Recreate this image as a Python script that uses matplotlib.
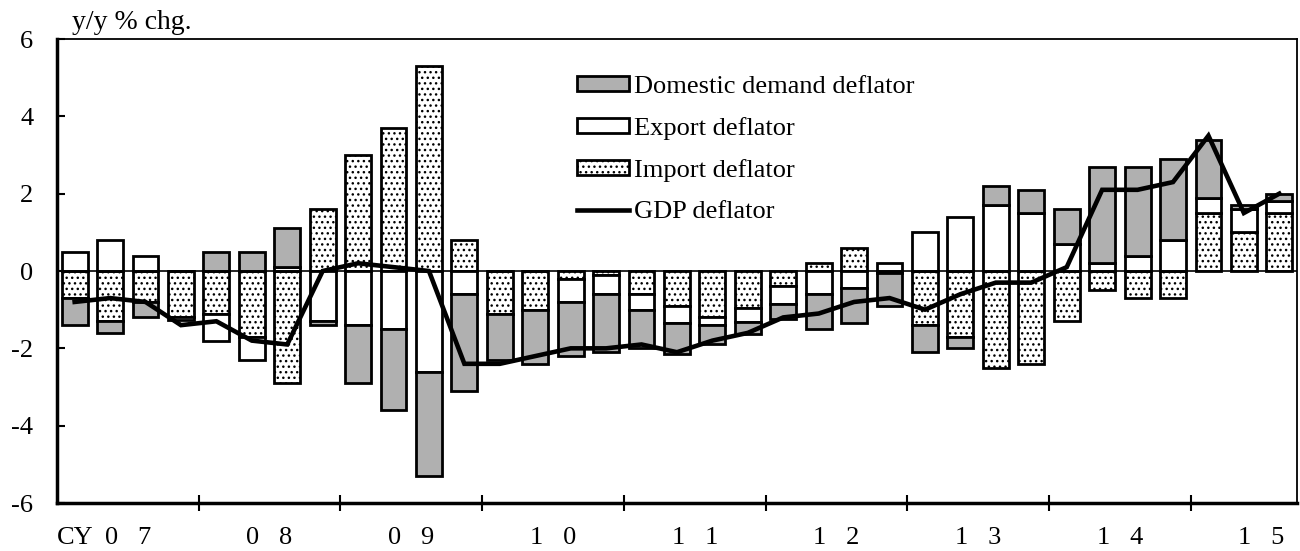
import numpy as np
import matplotlib
matplotlib.use('Agg')
import matplotlib.pyplot as plt
from matplotlib.patches import Patch
from matplotlib.lines import Line2D
from matplotlib.transforms import offset_copy

plt.rcParams['font.family'] = ['Liberation Serif', 'DejaVu Serif']
plt.rcParams['font.size'] = 19
plt.rcParams['axes.unicode_minus'] = False
plt.rcParams['hatch.linewidth'] = 1.0

# quarterly, CY2007 Q1 .. CY2015 Q3
year_labels = ['0   7', '0   8', '0   9', '1   0', '1   1', '1   2', '1   3', '1   4', '1   5']

domestic = [-0.7, -0.3, -0.4, 0.0, 0.5, 0.5, 1.0, -0.1, -1.5, -2.1, -2.7, -2.5,
            -1.2, -1.4, -1.4, -1.5, -1.0, -0.8, -0.5, -0.3, -0.4, -0.9, -0.9, -0.85,
            -0.7, -0.3, 0.5, 0.6, 0.9, 2.5, 2.3, 2.1, 1.5, 0.1, 0.2]
export = [0.5, 0.8, 0.4, -0.07, -0.7, -0.6, 0.1, -1.3, -1.4, -1.5, -2.6, -0.6,
          0.0, 0.0, -0.6, -0.5, -0.4, -0.45, -0.2, -0.37, -0.45, -0.6, -0.45, 0.2,
          1.0, 1.4, 1.7, 1.5, 0.7, 0.2, 0.4, 0.8, 0.4, 0.6, 0.3]
imports = [-0.7, -1.3, -0.8, -1.2, -1.1, -1.7, -2.9, 1.6, 3.0, 3.7, 5.3, 0.8,
           -1.1, -1.0, -0.2, -0.1, -0.6, -0.9, -1.2, -0.95, -0.4, 0.2, 0.6, -0.05,
           -1.4, -1.7, -2.5, -2.4, -1.3, -0.5, -0.7, -0.7, 1.5, 1.0, 1.5]
gdp = [-0.8, -0.7, -0.8, -1.4, -1.3, -1.8, -1.9, 0.0, 0.2, 0.1, 0.0, -2.4,
       -2.4, -2.2, -2.0, -2.0, -1.9, -2.1, -1.8, -1.6, -1.2, -1.1, -0.8, -0.7,
       -1.0, -0.6, -0.3, -0.3, 0.1, 2.1, 2.1, 2.3, 3.5, 1.5, 2.0]

gray = '#b0b0b0'
x = np.arange(len(gdp))

fig = plt.figure(figsize=(13, 5.51), dpi=100)
ax = fig.add_axes([0.0438, 0.0871, 0.9539, 0.8421])

pos_bottom = np.zeros(len(x))
neg_bottom = np.zeros(len(x))
styles = [(imports, 'white', '...'), (export, 'white', None), (domestic, gray, None)]
for vals, fc, hatch in styles:
    vals = np.array(vals)
    bottom = np.where(vals >= 0, pos_bottom, neg_bottom)
    ax.bar(x, vals, bottom=bottom, width=0.73, color=fc, edgecolor='black',
           linewidth=2.0, hatch=hatch, zorder=2)
    pos_bottom += np.where(vals > 0, vals, 0)
    neg_bottom += np.where(vals < 0, vals, 0)

ax.axhline(0, color='black', lw=1.2, zorder=2.5)
ax.plot(x, gdp, color='black', lw=3.3, zorder=4, solid_joinstyle='miter')

ax.set_xlim(-0.5, len(x) - 0.5)
ax.set_ylim(-6, 6)
ax.set_yticks(np.arange(-6, 7, 2))
ax.tick_params(axis='y', direction='in', length=6, width=1.5, pad=17)

ax.set_xticks(np.arange(3.5, len(x) - 1, 4))
ax.set_xticklabels([])
ax.tick_params(axis='x', which='major', direction='inout', length=11, width=1.5)
ax.set_xticks(np.arange(1.5, 1.5 + 4 * len(year_labels), 4), minor=True)
ax.set_xticklabels(year_labels, minor=True)
ax.tick_params(axis='x', which='minor', length=0, pad=17)
cy_trans = offset_copy(ax.get_xaxis_transform(), fig=fig, y=-17, units='points')
ax.text(-0.5, 0, 'CY', transform=cy_trans, ha='left', va='top')

for s in ['left', 'bottom']:
    ax.spines[s].set_linewidth(2.5)
ax.spines['top'].set_linewidth(1.3)
ax.spines['right'].set_linewidth(1.3)

fig.text(0.0554, 0.947, 'y/y % chg.', ha='left', va='baseline', fontsize=20)

handles = [Patch(facecolor=gray, edgecolor='black', linewidth=2.0),
           Patch(facecolor='white', edgecolor='black', linewidth=2.0),
           Patch(facecolor='white', edgecolor='black', linewidth=2.0, hatch='...'),
           Line2D([0], [0], color='black', lw=3.3)]
labels = ['Domestic demand deflator', 'Export deflator', 'Import deflator', 'GDP deflator']
fig.legend(handles, labels, loc='upper left', bbox_to_anchor=(0.444, 0.862),
           frameon=False, handlelength=1.97, handleheight=0.5, handletextpad=0.2,
           labelspacing=0.72, borderpad=0, borderaxespad=0)

fig.savefig('out.png', dpi=100)
